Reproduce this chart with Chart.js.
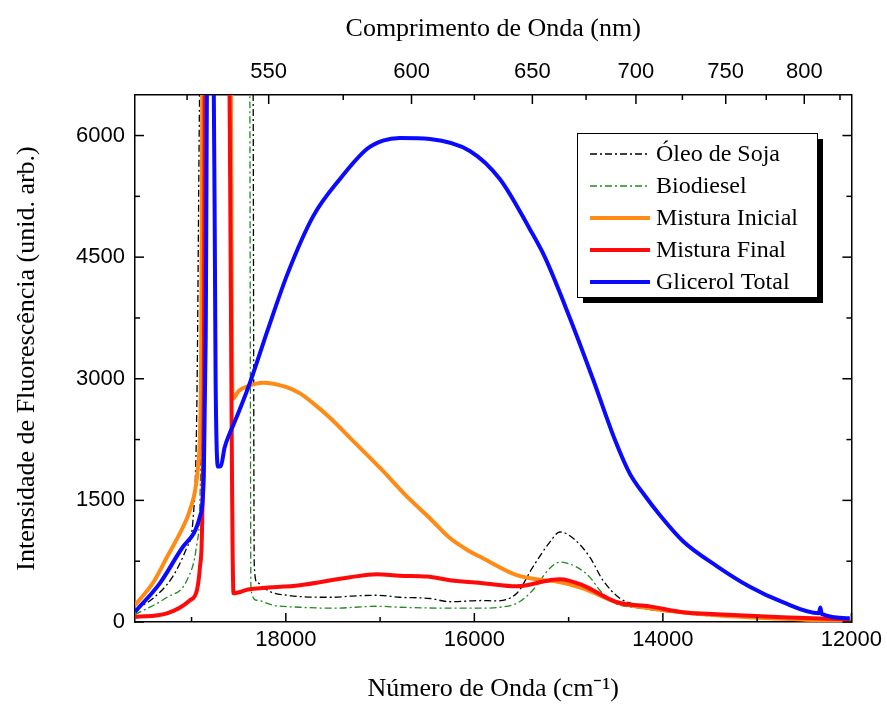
<!DOCTYPE html>
<html>
<head>
<meta charset="utf-8">
<script src="https://cdn.jsdelivr.net/npm/chart.js@4"></script>
<style>
  html, body { margin: 0; padding: 0; background: #fff; }
  canvas { display: block; }
</style>
</head>
<body>
<canvas id="spectra" width="887" height="706"></canvas>
<script>
// ---- data (wavenumber in cm-1, intensity in arb. units) ----
const sojaWn  = [19600, 19400, 19200, 19049, 18985, 18943, 18915, 18900, 18350, 18335, 18306, 18243, 18137, 17988, 17800, 17500, 17300, 17034, 16790, 16472, 16260, 15910, 15800, 15549, 15380, 15199, 15093, 14955, 14775, 14637, 14457, 14245, 13789, 13078, 12500, 12000];
const sojaInt = [150, 300, 560, 922, 1257, 2742, 6500, 7500, 7500, 700, 492, 430, 360, 330, 310, 305, 320, 330, 305, 290, 250, 265, 260, 355, 677, 986, 1110, 1036, 800, 516, 293, 207, 107, 58, 25, 0];

const bioWn  = [19600, 19261, 19049, 18943, 18911, 18885, 18870, 18385, 18370, 18306, 18137, 17850, 17500, 17034, 16790, 16260, 15910, 15730, 15549, 15380, 15199, 15093, 14913, 14775, 14669, 14531, 14245, 13789, 13078, 12500, 12000];
const bioInt = [90, 305, 516, 972, 1505, 4000, 7500, 7500, 400, 268, 207, 182, 170, 194, 182, 170, 170, 182, 231, 392, 663, 738, 677, 553, 392, 244, 170, 107, 50, 20, 0];

const iniWn  = [19600, 19400, 19261, 19100, 19017, 18932, 18900, 18880, 18590, 18565, 18500, 18400, 18243, 18000, 17850, 17712, 17532, 17300, 17000, 16700, 16472, 16260, 16048, 15910, 15549, 15274, 15125, 14849, 14489, 14139, 13429, 12368, 12000];
const iniInt = [207, 500, 800, 1150, 1382, 1914, 3000, 7500, 7500, 2750, 2850, 2910, 2952, 2900, 2820, 2700, 2520, 2250, 1900, 1530, 1280, 1035, 870, 787, 577, 516, 500, 416, 244, 169, 83, 21, 0];

const finWn  = [19600, 19261, 19017, 18943, 18911, 18890, 18870, 18855, 18610, 18555, 18400, 17850, 17320, 17034, 16790, 16500, 16260, 15910, 15549, 15199, 15093, 14849, 14489, 14139, 13789, 13429, 12728, 12018];
const finInt = [62, 107, 268, 392, 677, 1095, 3000, 7500, 7500, 355, 400, 453, 552, 588, 570, 560, 516, 478, 440, 516, 528, 453, 244, 193, 120, 95, 58, 33];

const gliWn  = [19600, 19335, 19091, 18911, 18870, 18850, 18830, 18770, 18745, 18720, 18690, 18650, 18593, 18560, 18381, 18190, 17980, 17712, 17426, 17140, 16970, 16790, 16472, 16048, 15730, 15411, 15252, 14987, 14743, 14510, 14351, 14192, 14033, 13789, 13429, 13078, 12728, 12345, 12330, 12315, 12018];
const gliInt = [124, 480, 928, 1300, 1800, 3500, 7500, 7500, 3000, 1917, 1920, 2150, 2334, 2420, 2950, 3610, 4300, 5000, 5464, 5834, 5938, 5971, 5958, 5810, 5464, 4845, 4500, 3750, 3000, 2250, 1830, 1560, 1320, 1000, 690, 435, 244, 108, 180, 100, 46];

const seriesLabels = ['Óleo de Soja', 'Biodiesel', 'Mistura Inicial', 'Mistura Final', 'Glicerol Total'];

// axis ticks
const xMajorTicks = [18000, 16000, 14000, 12000];
const xMinorTicks = [19000, 17000, 15000, 13000];
const yMajorTicks = [0, 1500, 3000, 4500, 6000];
const yMinorTicks = [750, 2250, 3750, 5250];
const nmMajorTicks = [550, 600, 650, 700, 750, 800];
const nmMinorTicks = [525, 575, 625, 675, 725, 775, 825];

const WN_MIN = 12000, WN_MAX = 19600, I_MIN = 0, I_MAX = 6500;

function pts(xs, ys) { return xs.map((x, i) => ({ x: x, y: ys[i] })); }

const styles = [
    { color: '#000000', width: 1.3, dash: [7, 3, 2, 3], order: 5 },
    { color: '#1f8a1f', width: 1.3, dash: [7, 3, 2, 3], order: 4 },
    { color: '#ff8a14', width: 4, dash: [], order: 3 },
    { color: '#ff0a0a', width: 4, dash: [], order: 2 },
    { color: '#0a0aff', width: 4, dash: [], order: 1 },
];
const raw = [[sojaWn, sojaInt], [bioWn, bioInt], [iniWn, iniInt], [finWn, finInt], [gliWn, gliInt]];

const datasets = raw.map((r, i) => ({
    label: seriesLabels[i],
    data: pts(r[0], r[1]),
    borderColor: styles[i].color,
    borderWidth: styles[i].width,
    borderDash: styles[i].dash,
    order: styles[i].order,
    pointRadius: 0,
    fill: false,
    cubicInterpolationMode: 'monotone',
    clip: 0,
}));

const serif = '"Liberation Serif", "Times New Roman", serif';
const sans = '"Liberation Sans", Arial, sans-serif';

// inward tick marks on all four sides
const innerTicks = {
    id: 'innerTicks',
    afterDatasetsDraw(chart) {
        const { ctx, chartArea: a, scales } = chart;
        ctx.save();
        ctx.strokeStyle = '#000';
        ctx.lineWidth = 1.5;
        const mark = (x1, y1, x2, y2) => { ctx.beginPath(); ctx.moveTo(x1, y1); ctx.lineTo(x2, y2); ctx.stroke(); };
        xMajorTicks.forEach(v => { const p = scales.x.getPixelForValue(v); mark(p, a.bottom, p, a.bottom - 9); });
        xMinorTicks.forEach(v => { const p = scales.x.getPixelForValue(v); mark(p, a.bottom, p, a.bottom - 5); });
        nmMajorTicks.forEach(v => { const p = scales.x.getPixelForValue(1e7 / v); mark(p, a.top, p, a.top + 9); });
        nmMinorTicks.forEach(v => { const p = scales.x.getPixelForValue(1e7 / v); mark(p, a.top, p, a.top + 5); });
        yMajorTicks.forEach(v => {
            const p = scales.y.getPixelForValue(v);
            mark(a.left, p, a.left + 9, p); mark(a.right, p, a.right - 9, p);
        });
        yMinorTicks.forEach(v => {
            const p = scales.y.getPixelForValue(v);
            mark(a.left, p, a.left + 5, p); mark(a.right, p, a.right - 5, p);
        });
        ctx.restore();
    }
};

// framed legend with drop shadow, inside the plot
const legendBox = {
    id: 'legendBox',
    afterDraw(chart) {
        const ctx = chart.ctx;
        const x = 577, y = 133, w = 240, h = 164;
        ctx.save();
        ctx.fillStyle = '#000';
        ctx.fillRect(x + 6, y + 6, w, h);
        ctx.fillStyle = '#fff';
        ctx.fillRect(x, y, w, h);
        ctx.strokeStyle = '#000';
        ctx.lineWidth = 1;
        ctx.strokeRect(x + 0.5, y + 0.5, w, h);
        ctx.font = '24px ' + serif;
        ctx.textBaseline = 'middle';
        chart.data.datasets.forEach((ds, i) => {
            const ry = y + 21 + i * 32;
            ctx.strokeStyle = ds.borderColor;
            ctx.lineWidth = ds.borderWidth;
            ctx.setLineDash(ds.borderDash);
            ctx.beginPath(); ctx.moveTo(590, ry); ctx.lineTo(650, ry); ctx.stroke();
            ctx.setLineDash([]);
            ctx.fillStyle = '#000';
            ctx.fillText(ds.label, 656, ry + 1);
        });
        ctx.restore();
    }
};

const border = { display: true, color: '#000', width: 1.5 };
const noGrid = { display: false, drawTicks: false };

new Chart(document.getElementById('spectra'), {
    type: 'line',
    data: { datasets },
    options: {
        responsive: false,
        animation: false,
        layout: { padding: 0 },
        plugins: { legend: { display: false }, tooltip: { enabled: false } },
        scales: {
            x: {
                type: 'linear', position: 'bottom', reverse: true, min: WN_MIN, max: WN_MAX,
                grid: noGrid, border,
                afterBuildTicks: s => { s.ticks = xMajorTicks.map(v => ({ value: v })); },
                afterFit: s => { s.height = 84; },
                ticks: { color: '#000', font: { family: sans, size: 22 }, padding: 5, maxRotation: 0, callback: v => String(v) },
                title: { display: true, text: 'Número de Onda (cm⁻¹)', color: '#000', font: { family: serif, size: 26 }, padding: { top: 0, bottom: 1 } }
            },
            x2: {
                type: 'linear', position: 'top', reverse: true, min: WN_MIN, max: WN_MAX,
                grid: noGrid, border,
                afterBuildTicks: s => { s.ticks = nmMajorTicks.map(nm => ({ value: 1e7 / nm })); },
                afterFit: s => { s.height = 95; },
                ticks: { color: '#000', font: { family: sans, size: 22 }, padding: 10, maxRotation: 0, callback: v => String(Math.round(1e7 / v)) },
                title: { display: true, text: 'Comprimento de Onda (nm)', color: '#000', font: { family: serif, size: 26 }, padding: { top: 14, bottom: 0 } }
            },
            y: {
                type: 'linear', position: 'left', min: I_MIN, max: I_MAX,
                grid: noGrid, border,
                afterBuildTicks: s => { s.ticks = yMajorTicks.map(v => ({ value: v })); },
                afterFit: s => { s.width = 135; },
                ticks: { color: '#000', font: { family: sans, size: 22 }, padding: 10, callback: v => String(v) },
                title: { display: true, text: 'Intensidade de Fluorescência (unid. arb.)', color: '#000', font: { family: serif, size: 26 }, padding: { top: 12, bottom: 0 } }
            },
            y2: {
                type: 'linear', position: 'right', min: I_MIN, max: I_MAX,
                grid: noGrid, border,
                ticks: { display: false },
                afterFit: s => { s.width = 35; }
            }
        }
    },
    plugins: [innerTicks, legendBox]
});
</script>
</body>
</html>
